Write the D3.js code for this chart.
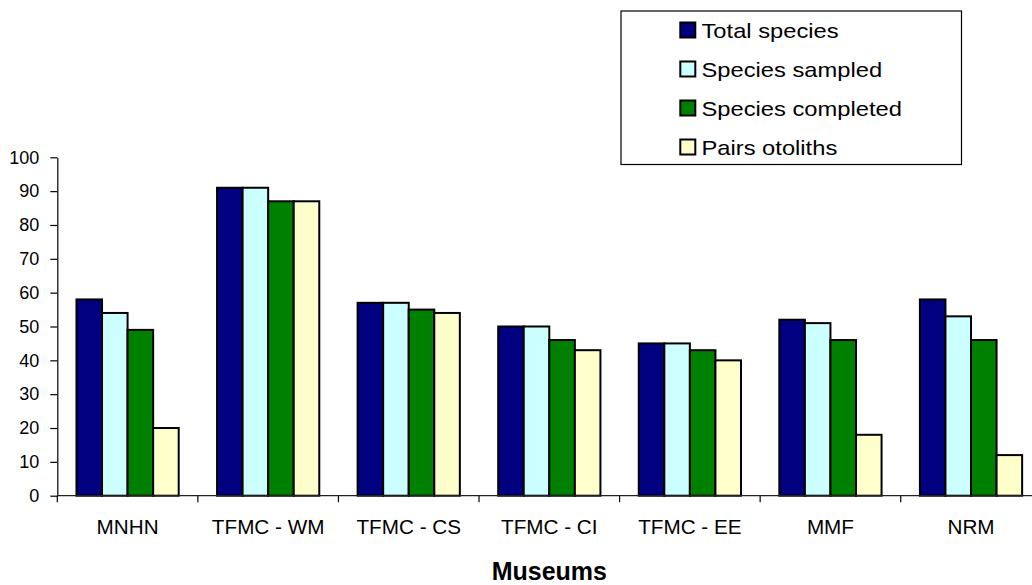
<!DOCTYPE html>
<html>
<head>
<meta charset="utf-8">
<script src="https://cdn.jsdelivr.net/npm/d3@7"></script>
<style>
  html, body { margin: 0; padding: 0; background: #fff; }
  svg { display: block; font-family: Arial, "Liberation Sans", sans-serif; }
</style>
</head>
<body>
<svg id="chart" width="1032" height="585"></svg>
<script>
// Museum collections: species counts and otolith pairs
const museums = ["MNHN", "TFMC - WM", "TFMC - CS", "TFMC - CI", "TFMC - EE", "MMF", "NRM"];
const seriesNames = ["Total species", "Species sampled", "Species completed", "Pairs otoliths"];
const totalSpecies     = [58, 91, 57, 50, 45, 52, 58];
const speciesSampled   = [54, 91, 57, 50, 45, 51, 53];
const speciesCompleted = [49, 87, 55, 46, 43, 46, 46];
const pairsOtoliths    = [20, 87, 54, 43, 40, 18, 12];
const yTicks = [0, 10, 20, 30, 40, 50, 60, 70, 80, 90, 100];
const colors = ["#000080", "#CCFFFF", "#008000", "#FFFFCC"];

const seriesValues = [totalSpecies, speciesSampled, speciesCompleted, pairsOtoliths];
const rows = museums.map((m, i) => ({
  museum: m,
  values: seriesNames.map((s, k) => ({ series: s, value: seriesValues[k][i] }))
}));

const svg = d3.select("#chart");
const plot = { left: 57.3, right: 1041.3, top: 157.3, bottom: 495.7 };

const x0 = d3.scaleBand().domain(museums).range([plot.left, plot.right]).padding(0);
const x1 = d3.scaleBand().domain(seriesNames).range([0, x0.bandwidth()])
  .paddingInner(0).paddingOuter(0.75);
const y = d3.scaleLinear().domain([0, 100]).range([plot.bottom, plot.top]);
const color = d3.scaleOrdinal().domain(seriesNames).range(colors);

// Bars
const groups = svg.append("g").selectAll("g")
  .data(rows).join("g")
  .attr("transform", d => `translate(${x0(d.museum)},0)`);

groups.selectAll("rect")
  .data(d => d.values).join("rect")
  .attr("x", d => x1(d.series))
  .attr("y", d => y(d.value))
  .attr("width", x1.bandwidth())
  .attr("height", d => y(0) - y(d.value))
  .attr("fill", d => color(d.series))
  .attr("stroke", "#000")
  .attr("stroke-width", 2);

// Y axis
const yAxis = d3.axisLeft(y).tickValues(yTicks).tickSize(7).tickSizeOuter(0).tickPadding(11);
const gy = svg.append("g").attr("transform", `translate(${plot.left},0)`).call(yAxis);
gy.select(".domain").attr("stroke", "#000").attr("stroke-width", 1.2);
gy.selectAll(".tick line").attr("stroke", "#000").attr("stroke-width", 1.2);
gy.selectAll(".tick text").attr("font-size", 18).attr("fill", "#000")
  .attr("font-family", "Arial, 'Liberation Sans', sans-serif");

// X axis: baseline with ticks between categories
const gx = svg.append("g");
gx.append("line")
  .attr("x1", plot.left).attr("x2", plot.right)
  .attr("y1", y(0)).attr("y2", y(0))
  .attr("stroke", "#222").attr("stroke-width", 1.2);
const boundaries = museums.map(m => x0(m)).concat([x0(museums[museums.length - 1]) + x0.bandwidth()]);
gx.selectAll("line.tick").data(boundaries).join("line")
  .attr("class", "tick")
  .attr("x1", d => d).attr("x2", d => d)
  .attr("y1", y(0)).attr("y2", y(0) + 6.5)
  .attr("stroke", "#000").attr("stroke-width", 1.2);
gx.selectAll("text").data(museums).join("text")
  .attr("x", d => x0(d) + x0.bandwidth() / 2)
  .attr("y", y(0) + 38.5)
  .attr("text-anchor", "middle")
  .attr("font-size", 20.7)
  .attr("fill", "#000")
  .text(d => d);

// Axis title
svg.append("text")
  .attr("x", (plot.left + plot.right) / 2)
  .attr("y", 580)
  .attr("text-anchor", "middle")
  .attr("font-size", 25)
  .attr("font-weight", "bold")
  .attr("fill", "#000")
  .text("Museums");

// Legend
const legend = svg.append("g");
legend.append("rect")
  .attr("x", 621).attr("y", 11)
  .attr("width", 340.5).attr("height", 153.5)
  .attr("fill", "#fff").attr("stroke", "#000").attr("stroke-width", 1.2);
const ly = d3.scalePoint().domain(seriesNames).range([30, 147]);
const items = legend.selectAll("g.item").data(seriesNames).join("g")
  .attr("class", "item")
  .attr("transform", d => `translate(0,${ly(d)})`);
items.append("rect")
  .attr("x", 680.3).attr("y", -7.5)
  .attr("width", 15).attr("height", 15)
  .attr("fill", d => color(d))
  .attr("stroke", "#000").attr("stroke-width", 2);
items.append("text")
  .attr("transform", "translate(701.5,7.7) scale(1.13,1)")
  .attr("font-size", 21)
  .attr("fill", "#000")
  .text(d => d);
</script>
</body>
</html>
